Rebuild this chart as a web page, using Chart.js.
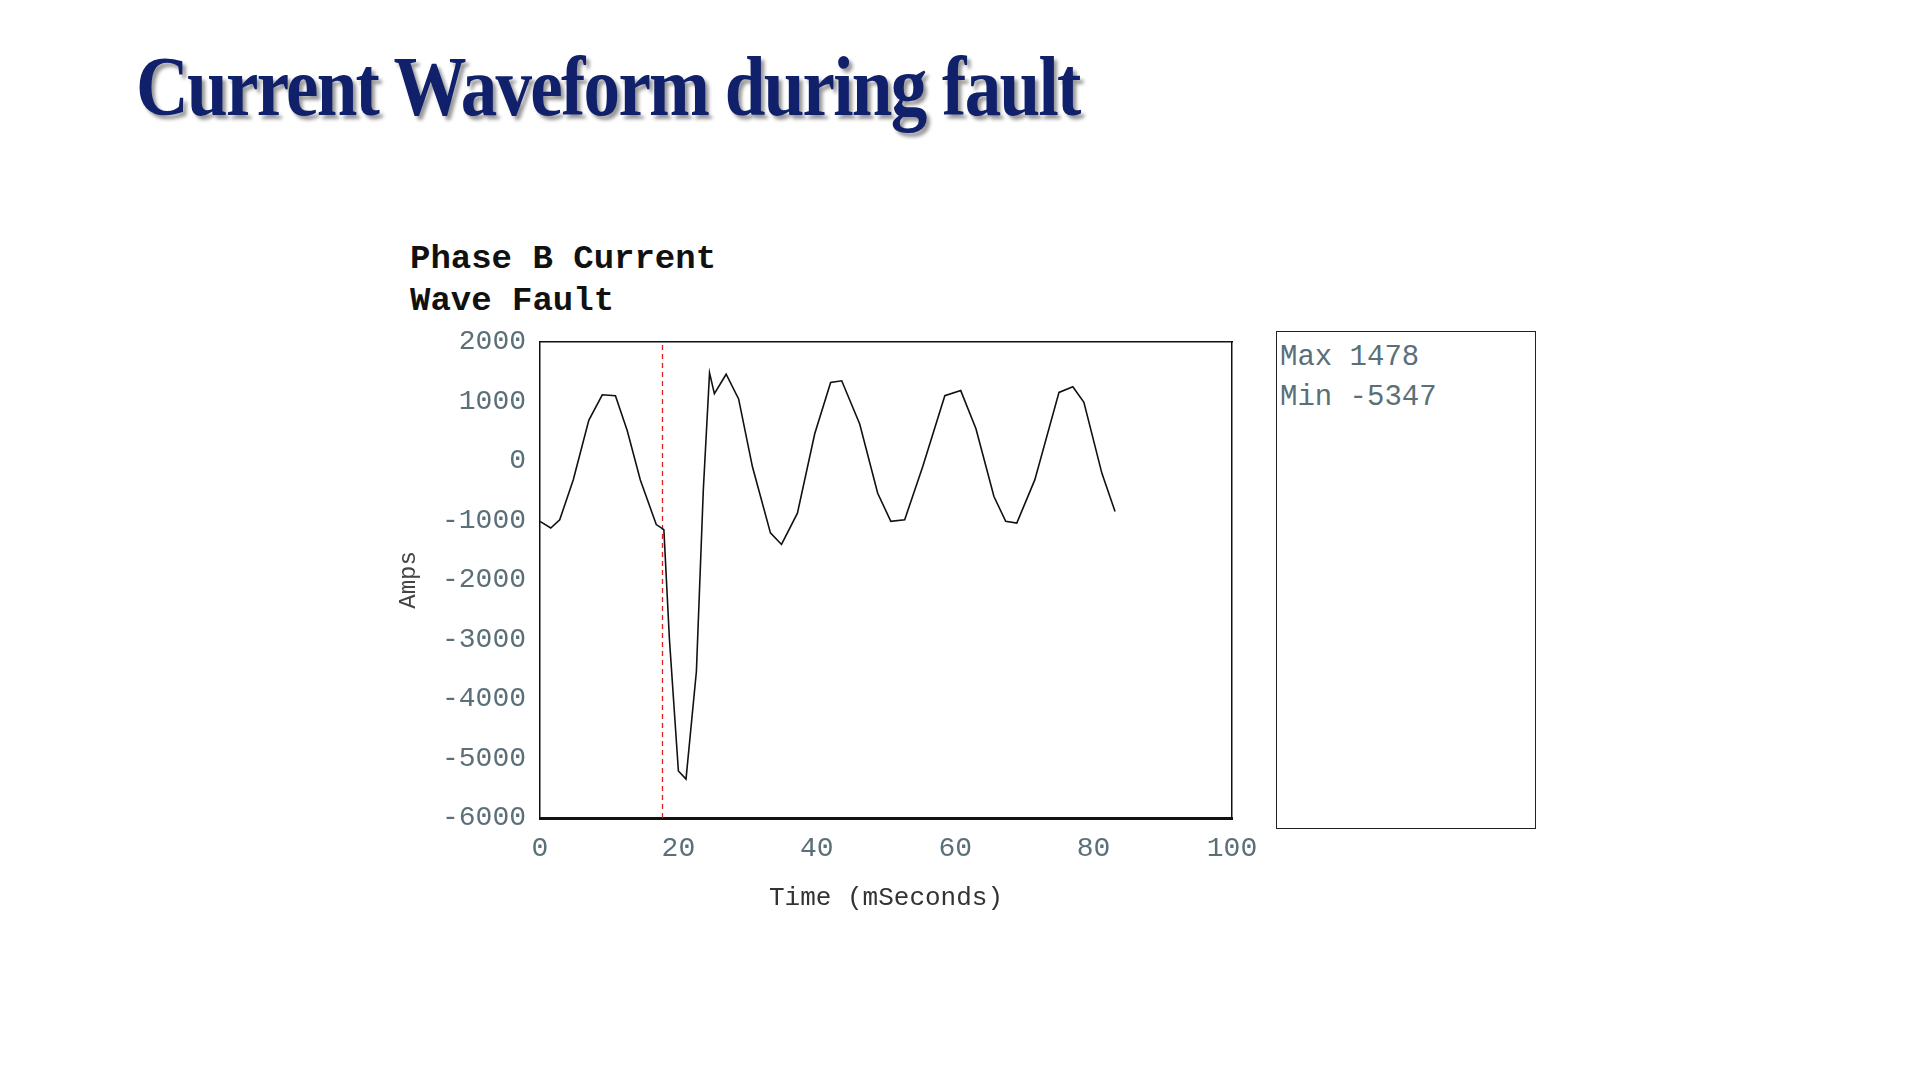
<!DOCTYPE html>
<html><head><meta charset="utf-8">
<script src="https://cdn.jsdelivr.net/npm/chart.js@4/dist/chart.umd.min.js"></script>
<style>
body{margin:0;width:1920px;height:1080px;background:#fff;position:relative;overflow:hidden}
#title{position:absolute;left:136px;top:38px;font-family:"Liberation Serif",serif;font-weight:bold;font-size:84px;color:#10206b;text-shadow:4px 4px 4px #999;letter-spacing:-2px;white-space:nowrap;transform:scaleX(0.87);transform-origin:left top}
.sub{position:absolute;left:410px;font-family:"Liberation Mono",monospace;font-weight:bold;font-size:34px;color:#111}
#wrap{position:absolute;left:394px;top:323px;width:880px;height:595px}
#legend{position:absolute;left:1276px;top:331px;width:260px;height:498px;border:1.5px solid #222;font-family:"Liberation Mono",monospace;font-size:29px;color:#5a6f78;padding:6px 3px;box-sizing:border-box;line-height:40px}
</style></head><body>
<div id="title">Current Waveform during fault</div>
<div class="sub" style="top:240px">Phase B Current</div>
<div class="sub" style="top:282px">Wave Fault</div>
<div id="wrap"><canvas id="c"></canvas></div>
<div id="legend">Max 1478<br>Min -5347</div>
<script>
const timeMs=[0,1.55,2.85,4.8,7.05,9.0,10.9,12.6,14.5,16.8,17.9,18.7,20.0,21.1,22.6,23.6,24.5,25.2,26.9,28.7,30.7,33.3,34.9,37.2,39.7,42.0,43.6,46.2,48.8,50.7,52.7,55.3,58.5,60.8,63.0,65.6,67.3,68.9,71.5,75.0,77.0,78.6,81.2,83.1];
const amps=[-1017,-1128,-990,-320,680,1110,1095,510,-320,-1070,-1155,-2990,-5210,-5347,-3540,-490,1478,1130,1455,1040,-100,-1210,-1405,-880,455,1315,1345,620,-545,-1017,-990,-100,1095,1180,540,-600,-1017,-1045,-320,1150,1245,985,-210,-850];
const faultTime=[17.7,17.7];
const faultAmps=[-6000,2000];
const yTicks=[2000,1000,0,-1000,-2000,-3000,-4000,-5000,-6000];
const xTicks=[0,20,40,60,80,100];
const tickFont={family:"Liberation Mono",size:28};
new Chart(document.getElementById('c'),{
type:'line',
data:{datasets:[
{data:timeMs.map((t,i)=>({x:t,y:amps[i]})),borderColor:'#111',borderWidth:1.6,pointRadius:0,tension:0},
{data:faultTime.map((t,i)=>({x:t,y:faultAmps[i]})),borderColor:'#e02020',borderWidth:1.3,borderDash:[5,4],pointRadius:0}
]},
options:{responsive:true,maintainAspectRatio:false,animation:false,
layout:{padding:{top:10,right:42}},
plugins:{legend:{display:false},tooltip:{enabled:false}},
scales:{
x:{type:'linear',min:0,max:100,afterBuildTicks:s=>{s.ticks=xTicks.map(v=>({value:v}))},
 grid:{display:false,drawTicks:true,tickLength:10,tickColor:'#111'},border:{color:'#111',width:3},
 ticks:{font:tickFont,color:'#5a6f78',padding:4,maxRotation:0,callback:v=>String(v)},
 title:{display:true,text:'Time (mSeconds)',font:{family:"Liberation Mono",size:26},color:'#333',padding:{top:-12}},
 afterFit:s=>{s.height=100}},
x2:{type:'linear',position:'top',min:0,max:100,ticks:{display:false},grid:{display:false},border:{color:'#111',width:1.5},afterFit:s=>{s.height=0}},
y:{min:-6000,max:2000,afterBuildTicks:s=>{s.ticks=yTicks.map(v=>({value:v}))},
 grid:{display:false,drawTicks:true,tickLength:12,tickColor:'#111'},border:{color:'#111',width:1.5},
 ticks:{font:tickFont,color:'#5a6f78',padding:2,callback:v=>String(v)},
 title:{display:true,text:'Amps',font:{family:"Liberation Mono",size:24},color:'#444',padding:{top:0,bottom:-14}},
 afterFit:s=>{s.width=146}},
y2:{position:'right',min:-6000,max:2000,ticks:{display:false},grid:{display:false},border:{color:'#111',width:1.5},afterFit:s=>{s.width=0}}
}}});
</script></body></html>
